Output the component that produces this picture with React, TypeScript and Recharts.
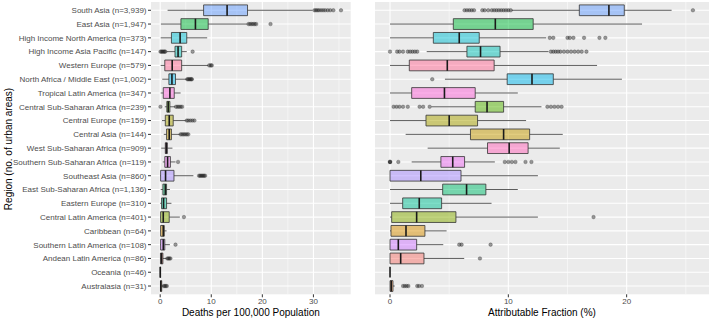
import React from 'react';
import {
    ComposedChart, XAxis, YAxis, CartesianGrid, ReferenceArea, ReferenceLine, Scatter, ZAxis
} from 'recharts';

const REGIONS = [
    'South Asia', 'East Asia', 'High Income North America', 'High Income Asia Pacific',
    'Western Europe', 'North Africa / Middle East', 'Tropical Latin America',
    'Central Sub-Saharan Africa', 'Central Europe', 'Central Asia', 'West Sub-Saharan Africa',
    'Southern Sub-Saharan Africa', 'Southeast Asia', 'East Sub-Saharan Africa', 'Eastern Europe',
    'Central Latin America', 'Caribbean', 'Southern Latin America', 'Andean Latin America',
    'Oceania', 'Australasia',
];
const URBAN_AREAS = [
    '3,939', '1,947', '373', '147', '579', '1,002', '347', '239', '159', '144', '909',
    '119', '860', '1,136', '310', '401', '64', '108', '86', '46', '31',
];

// [lower whisker, Q1, median, Q3, upper whisker]
const DEATHS_BOX = [
    [1.45, 8.5, 13.1, 17.1, 29.8],
    [0.14, 4.06, 6.9, 9.4, 17.1],
    [0.1, 2.2, 3.9, 5.2, 9.2],
    [1.25, 2.9, 3.5, 4.2, 5.2],
    [0.1, 0.9, 2.35, 4.2, 9.4],
    [0.4, 1.7, 2.3, 3.0, 5.2],
    [0.1, 0.6, 1.9, 2.75, 4.0],
    [0.9, 1.3, 1.57, 1.9, 2.9],
    [0.35, 1.0, 1.77, 2.55, 5.0],
    [0.7, 1.25, 1.77, 2.2, 3.85],
    [0.2, 1.0, 1.2, 1.4, 2.4],
    [0.5, 0.9, 1.45, 2.0, 3.0],
    [0, 0.08, 1.05, 2.7, 6.5],
    [0.1, 0.53, 1.0, 1.25, 1.9],
    [0, 0.27, 0.66, 1.25, 2.2],
    [0, 0.08, 0.6, 1.77, 3.85],
    [0, 0.08, 0.6, 0.8, 1.25],
    [0, 0.08, 0.6, 0.9, 1.9],
    [0, 0.05, 0.25, 0.53, 1.25],
    [0, 0, 0.02, 0.05, 0.1],
    [0, 0.05, 0.12, 0.3, 0.6],
];
const DEATHS_OUTLIERS = [
    [30.2, 30.5, 30.8, 31.1, 31.5, 31.9, 32.3, 32.8, 33.3, 33.9, 35.4],
    [17.3, 17.6, 17.9, 18.2, 18.5, 18.8, 21.6],
    [],
    [0.05, 0.25, 0.45, 0.65, 0.85, 1.0, 6.35],
    [9.6, 9.9, 10.1],
    [5.3, 5.5, 5.7, 5.9, 6.1, 6.2],
    [],
    [0.05, 3.1, 3.4, 3.7, 4.0, 4.3],
    [5.2, 5.5, 5.9, 6.3, 6.7],
    [4.0, 4.3, 4.6, 4.9, 5.2, 5.5],
    [],
    [3.5],
    [7.6, 7.8, 8.0, 8.2, 8.4, 8.6, 8.8],
    [],
    [],
    [4.65],
    [],
    [3.0],
    [1.4, 1.6, 1.8, 2.0],
    [],
    [0.7, 0.9, 1.1, 1.3],
];

const FRACTION_BOX = [
    [10.27, 16.0, 18.5, 19.8, 23.8],
    [0, 5.35, 8.9, 12.1, 21.3],
    [0, 3.66, 5.85, 7.54, 13.2],
    [3.1, 6.5, 7.65, 9.3, 13.4],
    [0, 1.63, 4.84, 8.8, 17.5],
    [4.64, 9.9, 12.0, 13.8, 19.6],
    [0, 1.83, 4.6, 7.2, 10.8],
    [3.5, 7.2, 8.2, 9.6, 12.8],
    [0, 3.04, 5.0, 7.4, 11.5],
    [1.32, 6.8, 9.6, 11.8, 14.6],
    [3.18, 8.24, 10.07, 11.67, 14.35],
    [1.83, 4.3, 5.3, 6.3, 8.86],
    [0, 0, 2.6, 6.0, 12.5],
    [0, 4.45, 6.47, 8.1, 10.8],
    [0, 1.07, 2.47, 4.36, 8.58],
    [0, 0.14, 2.25, 5.57, 12.5],
    [0, 0.08, 1.35, 2.95, 4.78],
    [0, 0, 0.7, 2.25, 4.5],
    [0, 0, 0.9, 2.87, 6.27],
    [0, 0, 0, 0, 0],
    [0, 0, 0.1, 0.25, 0.4],
];
const FRACTION_OUTLIERS = [
    [6.3, 6.5, 6.7, 6.9, 7.1, 7.8, 8.0, 8.3, 8.6, 8.8, 9.0, 9.2, 9.4, 9.6, 9.8, 10.0, 10.2, 25.6],
    [],
    [13.5, 13.8, 15.0, 15.2, 15.5, 16.4, 17.7, 18.2],
    [0, 0.6, 0.8, 1.1, 1.5, 1.7, 1.9, 2.1, 2.3, 13.6, 13.8, 14.0, 14.2, 14.4, 14.7, 15.0, 15.3, 15.6, 15.9, 16.2, 16.6],
    [],
    [3.57],
    [],
    [0.3, 0.55, 0.8, 1.1, 1.5, 2.5, 2.8, 3.35, 13.3, 13.6, 13.9, 14.2, 14.5],
    [],
    [],
    [],
    [0, 0, 0, 0.7, 9.7, 10.0, 10.3, 10.6, 11.45, 11.95],
    [],
    [],
    [],
    [17.2],
    [],
    [5.85, 6.05, 8.5],
    [7.6],
    [],
    [1.1, 1.25, 1.4, 1.55, 2.3, 2.45, 2.7],
];

const DEATHS_TICKS = [0, 10, 20, 30];
const DEATHS_MINOR = [5, 15, 25, 35];
const FRACTION_TICKS = [0, 10, 20];
const FRACTION_MINOR = [5, 15, 25];

const ROWS = REGIONS.map((_, i) => i);
const HALF = 0.39;
const FONT = '"Liberation Sans", Arial, Helvetica, sans-serif';

// ggplot-style hue palette (hcl, c=100, l=65), regions coloured in alphabetical order
function hue(h: number): string {
    const l = 65, c = 100;
    const hr = (h * Math.PI) / 180;
    const U = c * Math.cos(hr), V = c * Math.sin(hr);
    const Y = Math.pow((l + 16) / 116, 3);
    const up = U / (13 * l) + 0.1978398;
    const vp = V / (13 * l) + 0.4683363;
    const X = (Y * 9 * up) / (4 * vp);
    const Z = (Y * (12 - 3 * up - 20 * vp)) / (4 * vp);
    const lin = [
        3.2404542 * X - 1.5371385 * Y - 0.4985314 * Z,
        -0.969266 * X + 1.8760108 * Y + 0.041556 * Z,
        0.0556434 * X - 0.2040259 * Y + 1.0572252 * Z,
    ];
    return '#' + lin.map(v => {
        const g = v <= 0.0031308 ? 12.92 * v : 1.055 * Math.pow(v, 1 / 2.4) - 0.055;
        const n = Math.round(Math.max(0, Math.min(1, g)) * 255);
        return n.toString(16).padStart(2, '0');
    }).join('');
}

const SORTED = [...REGIONS].sort();
const COLORS = REGIONS.map(r => hue(15 + (360 * SORTED.indexOf(r)) / REGIONS.length));

// region label on one line, no wrapping
const RegionTick = (props: any) => {
    const { x, y, payload } = props;
    const i = payload.value as number;
    return (
        <text x={x} y={y} dy="0.355em" textAnchor="end" fontSize={8} fill="#4D4D4D" fontFamily={FONT}>
            {`${REGIONS[i]} (n=${URBAN_AREAS[i]})`}
        </text>
    );
};

interface PanelProps {
    box: number[][];
    outliers: number[][];
    domain: [number, number];
    ticks: number[];
    minor: number[];
    title: string;
    showLabels: boolean;
    width: number;
    margin: { top: number; right: number; bottom: number; left: number };
}

const Panel: React.FC<PanelProps> = ({ box, outliers, domain, ticks, minor, title, showLabels, width, margin }) => {
    const points = outliers.flatMap((vals, i) => vals.map(v => ({ x: v, y: i })));
    return (
        <ComposedChart width={width} height={319} margin={margin}>
            <CartesianGrid fill="#EBEBEB" stroke="#FFFFFF" strokeWidth={1.1} horizontalValues={ROWS} verticalValues={ticks} />
            <CartesianGrid stroke="#FFFFFF" strokeWidth={0.5} horizontal={false} verticalValues={minor} />
            <XAxis
                type="number" dataKey="x" domain={domain} ticks={ticks} interval={0} allowDataOverflow
                axisLine={false} tickSize={3} tickMargin={1.5} tickLine={{ stroke: '#333333' }}
                tick={{ fontSize: 8, fill: '#4D4D4D' }} height={24.7}
                label={{ value: title, position: 'insideBottom', offset: 3, fontSize: 10, fill: '#000000' }}
            />
            <YAxis
                type="number" dataKey="y" domain={[-0.6, 20.6]} reversed ticks={ROWS} interval={0}
                allowDataOverflow hide={!showLabels} width={151} axisLine={false} tickSize={3} tickMargin={1.5}
                tickLine={{ stroke: '#333333' }} tick={<RegionTick />}
            />
            <ZAxis range={[11, 11]} />
            {box.map(([lo, q1], i) => (
                <ReferenceLine key={`wl${i}`} segment={[{ x: lo, y: i }, { x: q1, y: i }]} stroke="#333333" strokeWidth={0.8} />
            ))}
            {box.map(([, , , q3, hi], i) => (
                <ReferenceLine key={`wh${i}`} segment={[{ x: q3, y: i }, { x: hi, y: i }]} stroke="#333333" strokeWidth={0.8} />
            ))}
            {box.map(([, q1, , q3], i) => (
                <ReferenceArea
                    key={`b${i}`} x1={q1} x2={q3} y1={i - HALF} y2={i + HALF}
                    fill={COLORS[i]} fillOpacity={0.5} stroke="#333333" strokeWidth={0.8} strokeOpacity={1}
                />
            ))}
            {box.map(([, , med], i) => (
                <ReferenceLine key={`m${i}`} segment={[{ x: med, y: i - HALF }, { x: med, y: i + HALF }]} stroke="#1A1A1A" strokeWidth={1.6} />
            ))}
            <Scatter
                data={points} isAnimationActive={false}
                shape={(p: any) => (
                    <circle cx={p.cx} cy={p.cy} r={1.8} fill="#222222" fillOpacity={0.45} stroke="#222222" strokeOpacity={0.5} strokeWidth={0.5} />
                )}
            />
        </ComposedChart>
    );
};

export default function App() {
    return (
        <div style={{ position: 'absolute', left: 0, top: 0, width: 710, height: 319, background: '#FFFFFF', fontFamily: FONT }}>
            <div style={{ position: 'absolute', left: 0, top: 0 }}>
                <Panel
                    box={DEATHS_BOX} outliers={DEATHS_OUTLIERS} domain={[-1.8, 37.3]} ticks={DEATHS_TICKS}
                    minor={DEATHS_MINOR} title="Deaths per 100,000 Population" showLabels width={355}
                    margin={{ top: 2, right: 4.3, bottom: 0, left: 0 }}
                />
            </div>
            <div style={{ position: 'absolute', left: 355, top: 0 }}>
                <Panel
                    box={FRACTION_BOX} outliers={FRACTION_OUTLIERS} domain={[-1.27, 26.96]} ticks={FRACTION_TICKS}
                    minor={FRACTION_MINOR} title="Attributable Fraction (%)" showLabels={false} width={355}
                    margin={{ top: 2, right: 1, bottom: 0, left: 20 }}
                />
            </div>
            <svg style={{ position: 'absolute', left: 0, top: 0 }} width={20} height={319}>
                <text
                    x={8} y={149} transform="rotate(-90 8 149)" textAnchor="middle" dominantBaseline="central"
                    fontSize={10} fill="#000000" fontFamily={FONT}
                >
                    Region (no. of urban areas)
                </text>
            </svg>
        </div>
    );
}
